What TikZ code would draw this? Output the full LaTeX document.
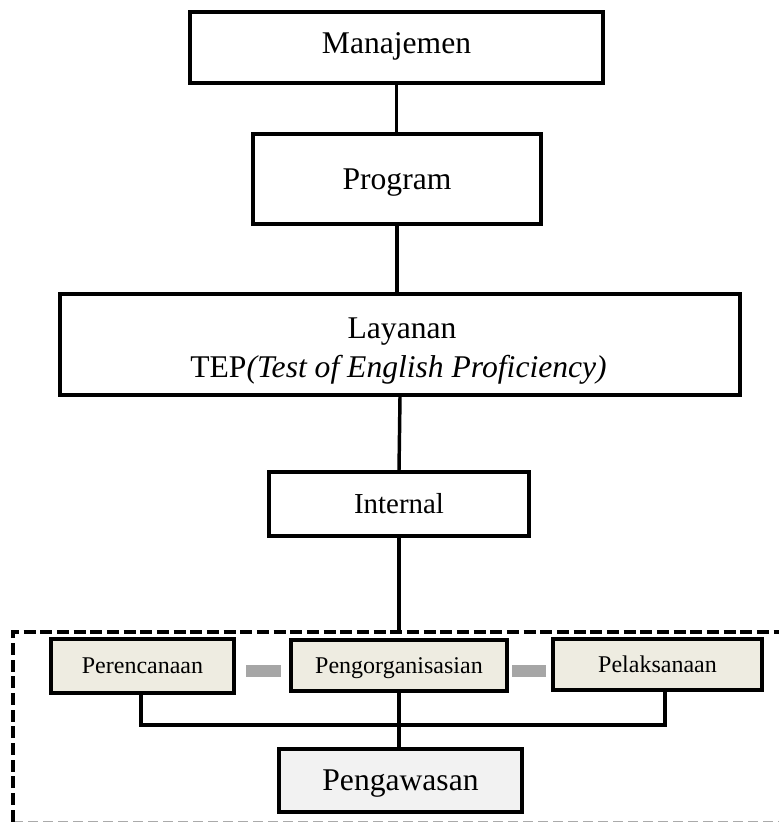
\documentclass[tikz,border=0pt]{standalone}
\usepackage{fontspec}
\setmainfont{Liberation Serif}
\usetikzlibrary{calc}
\definecolor{beige}{HTML}{EEECE1}
\definecolor{lightgr}{HTML}{F2F2F2}
\definecolor{bargray}{HTML}{A6A6A6}
\definecolor{dashgray}{HTML}{AAAAAA}
\begin{document}
\begin{tikzpicture}[x=0.75pt,y=-0.75pt,
  topbox/.style={draw,line width=2.6pt,fill=white,inner sep=0pt,font=\fontsize{23.7}{29.25}\selectfont,text height=15.7pt,text depth=0pt},
  smallbox/.style={draw,line width=3pt,fill=beige,inner sep=0pt,font=\fontsize{18}{22}\selectfont,text height=11.9pt,text depth=0pt},
  conn/.style={line width=2.6pt}]
\useasboundingbox (0,0) rectangle (779,823);
% dashed frame
\coordinate (fbl) at (13,821.5);
\coordinate (ftl) at (13,632);
\coordinate (ftr) at (779,632);
\coordinate (fbr) at (779,821.5);
\draw[dashgray,line width=1.2pt,dash pattern=on 7.5pt off 3.75pt] (fbl) -- (fbr);
\draw[black,line width=3pt,dash pattern=on 9pt off 3.5pt] (fbl) -- (ftl) -- (ftr);
% top chain
\node[topbox,minimum width=309.75pt,minimum height=53.25pt,text depth=6.8pt] (man) at (396.5,47.5) {Manajemen};
\node[topbox,minimum width=216pt,minimum height=67.5pt] (prog) at (397,179) {Program};
\node[topbox,minimum width=510pt,minimum height=75.75pt] (lay) at (400,344.5) {};
\node[anchor=base,inner sep=0pt,font=\fontsize{23.7}{29.25}\selectfont] (laya) at (402,338) {Layanan};
\node[anchor=base,inner sep=0pt,font=\fontsize{23.7}{29.25}\selectfont] (layb) at (398.5,377) {TEP\textit{(Test of English Proficiency)}};
\node[topbox,minimum width=195pt,minimum height=48pt,font=\fontsize{21.7}{26}\selectfont,text height=14.4pt] (int) at (399,504) {Internal};
% bottom group
\node[smallbox,minimum width=137.25pt,minimum height=40.5pt] (per) at (142.5,666) {Perencanaan};
\node[smallbox,minimum width=162pt,minimum height=38.25pt] (org) at (399,665.5) {Pengorganisasian};
\node[smallbox,minimum width=156.75pt,minimum height=38.25pt] (pel) at (657.5,664.5) {Pelaksanaan};
\node[smallbox,fill=lightgr,minimum width=182.25pt,minimum height=47.25pt,font=\fontsize{23.7}{28}\selectfont,text height=15.7pt] (aws) at (400.5,780.5) {Pengawasan};
\fill[bargray] (246,665) rectangle (281,677);
\fill[bargray] (512,665) rectangle (546,677);
% connectors
\draw[conn] (man.south) -- (man.south |- prog.north);
\draw[conn] (prog.south) -- (prog.south |- lay.north);
\draw[conn] (lay.south) -- (int.north);
\draw[conn] (int.south) -- (int.south |- ftl);
\draw[conn] (org.south) -- (org.south |- aws.north);
\draw[conn] ([xshift=-1pt]per.south) -- ++(0,30) -| ([xshift=5.6pt]pel.south);
\end{tikzpicture}
\end{document}
